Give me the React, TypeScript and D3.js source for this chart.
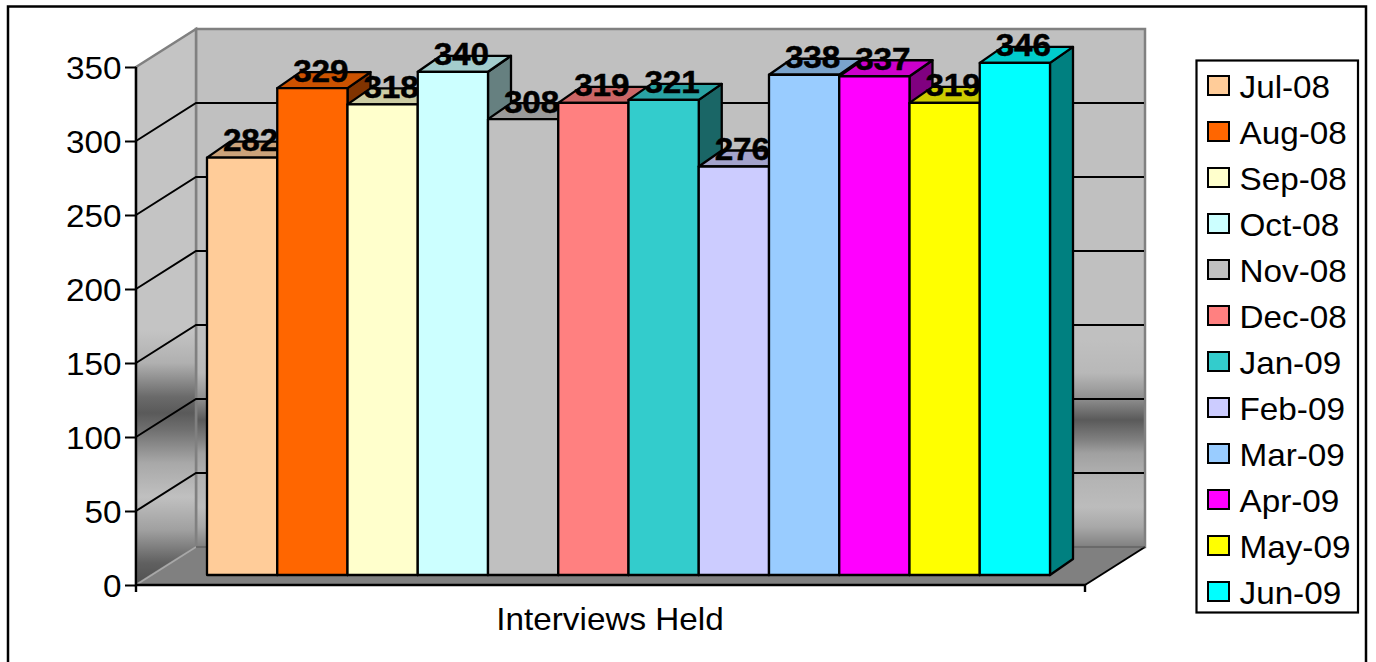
import React, { useEffect, useRef } from 'react'
import * as d3 from 'd3'

const months = ['Jul-08', 'Aug-08', 'Sep-08', 'Oct-08', 'Nov-08', 'Dec-08', 'Jan-09', 'Feb-09', 'Mar-09', 'Apr-09', 'May-09', 'Jun-09']
const interviews = [282, 329, 318, 340, 308, 319, 321, 276, 338, 337, 319, 346]
const barColors = ['#FFCC99', '#FF6600', '#FFFFCC', '#CCFFFF', '#C0C0C0', '#FF8080', '#33CCCC', '#CCCCFF', '#99CCFF', '#FF00FF', '#FFFF00', '#00FFFF']
const yTicks = [0, 50, 100, 150, 200, 250, 300, 350]
const seriesName = 'Interviews Held'

const backStops: Array<[number, string]> = [
  [340, '#c0c0c0'], [373, '#b8b8b8'], [398, '#909090'], [420, '#5a5a5a'], [440, '#808080'],
  [453, '#a0a0a0'], [480, '#b4b4b4'], [507, '#bcbcbc'], [527, '#a8a8a8'], [547, '#808080'],
]
const sideStops: Array<[number, string]> = [
  [330, '#c4c4c4'], [363, '#b0b0b0'], [397, '#6a6a6a'], [413, '#5a5a5a'], [430, '#707070'],
  [463, '#a8a8a8'], [497, '#c0c0c0'], [530, '#a0a0a0'], [563, '#606060'], [585, '#505050'],
]

const FONT = '"Liberation Sans", Arial, sans-serif'
const STRETCH = 1.04

const App = (): JSX.Element => {
  const ref = useRef<SVGSVGElement>(null)

  useEffect(() => {
    const svg = d3.select(ref.current)
    svg.selectAll('*').remove()

    const y = d3.scaleLinear().domain([0, 350]).range([585, 67])
    const x = d3.scaleBand().domain(months).range([207, 1050])
    const frontX = [136, 1085]
    const wallDx = 60
    const wallDy = -38
    const barBase = -10
    const depthX = 23
    const depthY = -16

    const addGradient = (id: string, stops: Array<[number, string]>) => {
      const g = svg
        .append('defs')
        .append('linearGradient')
        .attr('id', id)
        .attr('gradientUnits', 'userSpaceOnUse')
        .attr('x1', 0)
        .attr('x2', 0)
        .attr('y1', stops[0][0])
        .attr('y2', stops[stops.length - 1][0])
      const s = d3.scaleLinear().domain([stops[0][0], stops[stops.length - 1][0]]).range([0, 1])
      stops.forEach(d => {
        g.append('stop').attr('offset', s(d[0])).attr('stop-color', d[1])
      })
    }
    addGradient('backWall', backStops)
    addGradient('sideWall', sideStops)

    const stretched = (
      parent: d3.Selection<any, any, any, any>,
      px: number,
      py: number,
      label: string,
      anchor: string,
      weight = 'normal',
    ) => {
      parent
        .append('text')
        .attr('transform', 'translate(' + px + ',' + py + ') scale(' + STRETCH + ',1)')
        .attr('font-family', FONT)
        .attr('font-size', 32)
        .attr('font-weight', weight)
        .attr('text-anchor', anchor)
        .attr('fill', '#000')
        .attr('stroke', weight === 'bold' ? '#000' : 'none')
        .attr('stroke-width', 0.5)
        .text(label)
    }

    // outer frame, open at the bottom
    svg
      .append('path')
      .attr('d', 'M8,662V6.5H1366V662')
      .attr('fill', 'none')
      .attr('stroke', '#000')
      .attr('stroke-width', 2.5)

    // walls and floor
    const backLeft = frontX[0] + wallDx
    const backRight = frontX[1] + wallDx
    const polygon = (pts: number[][]) => 'M' + pts.map(p => p.join(',')).join('L') + 'Z'
    svg
      .append('path')
      .attr('d', polygon([[backLeft, y(350) + wallDy], [backRight, y(350) + wallDy], [backRight, y(0) + wallDy], [backLeft, y(0) + wallDy]]))
      .attr('fill', 'url(#backWall)')
      .attr('stroke', '#808080')
      .attr('stroke-width', 2.5)
    svg
      .append('path')
      .attr('d', polygon([[frontX[0], y(350)], [backLeft, y(350) + wallDy], [backLeft, y(0) + wallDy], [frontX[0], y(0)]]))
      .attr('fill', 'url(#sideWall)')
      .attr('stroke', '#808080')
      .attr('stroke-width', 2.5)
    svg
      .append('path')
      .attr('d', polygon([[frontX[0], y(0)], [backLeft, y(0) + wallDy], [backRight, y(0) + wallDy], [frontX[1], y(0)]]))
      .attr('fill', '#808080')
    svg
      .append('line')
      .attr('x1', frontX[1])
      .attr('y1', y(0))
      .attr('x2', backRight)
      .attr('y2', y(0) + wallDy)
      .attr('stroke', '#000')
      .attr('stroke-width', 2)
    svg
      .append('line')
      .attr('x1', frontX[0])
      .attr('y1', y(0))
      .attr('x2', backLeft)
      .attr('y2', y(0) + wallDy)
      .attr('stroke', '#a8a8a8')
      .attr('stroke-width', 1.5)
    svg
      .append('line')
      .attr('x1', backLeft)
      .attr('y1', y(0) + wallDy)
      .attr('x2', backRight)
      .attr('y2', y(0) + wallDy)
      .attr('stroke', '#555')
      .attr('stroke-width', 1)

    // gridlines
    yTicks
      .filter(t => t > 0 && t < 350)
      .forEach(t => {
        svg
          .append('path')
          .attr('d', 'M' + frontX[0] + ',' + y(t) + 'L' + backLeft + ',' + (y(t) + wallDy) + 'H' + (backRight - 1))
          .attr('fill', 'none')
          .attr('stroke', '#000')
          .attr('stroke-width', 2)
      })

    // axes
    const yAxis = d3.axisLeft(y).tickValues(yTicks).tickSize(11).tickFormat(d3.format('d'))
    svg
      .append('g')
      .attr('transform', 'translate(' + frontX[0] + ',0)')
      .call(g => {
        g.call(yAxis)
        g.select('.domain').remove()
        g.selectAll('.tick line').attr('stroke', '#000').attr('stroke-width', 2)
        g.selectAll('.tick text').remove()
      })
    yTicks.forEach(t => {
      stretched(svg, 121.5, y(t) + 12, String(t), 'end')
    })
    svg
      .append('path')
      .attr('d', 'M' + frontX[0] + ',' + y(350) + 'V' + (y(0) + 7) + 'M' + frontX[0] + ',' + y(0) + 'H' + frontX[1] + 'v7')
      .attr('fill', 'none')
      .attr('stroke', '#000')
      .attr('stroke-width', 2.4)

    // bars, left to right so each one hides the side of the one before
    const w = x.bandwidth()
    const bars = svg
      .selectAll('g.bar')
      .data(interviews)
      .enter()
      .append('g')
      .attr('class', 'bar')
      .attr('stroke', '#000')
      .attr('stroke-width', 2.3)
      .attr('stroke-linejoin', 'round')
    const barX = (i: number) => x(months[i]) as number
    const barTop = (d: number) => y(d) + barBase
    const shade = (c: string, k: number) => {
      const r = d3.rgb(c)
      return d3.rgb(r.r * k, r.g * k, r.b * k).formatHex()
    }
    bars
      .append('path')
      .attr('d', (d, i) =>
        polygon([
          [barX(i) + w, barTop(d)],
          [barX(i) + w + depthX, barTop(d) + depthY],
          [barX(i) + w + depthX, y(0) + barBase + depthY],
          [barX(i) + w, y(0) + barBase],
        ]),
      )
      .attr('fill', (d, i) => shade(barColors[i], 0.5))
    bars
      .append('path')
      .attr('d', (d, i) =>
        polygon([
          [barX(i), barTop(d)],
          [barX(i) + depthX, barTop(d) + depthY],
          [barX(i) + w + depthX, barTop(d) + depthY],
          [barX(i) + w, barTop(d)],
        ]),
      )
      .attr('fill', (d, i) => shade(barColors[i], 0.8))
    bars
      .append('rect')
      .attr('x', (d, i) => barX(i))
      .attr('y', d => barTop(d))
      .attr('width', w)
      .attr('height', d => y(0) + barBase - barTop(d))
      .attr('fill', (d, i) => barColors[i])

    // value labels on top of everything
    interviews.forEach((d, i) => {
      stretched(svg, barX(i) + w / 2 + 8.5, barTop(d) - 6.5, String(d), 'middle', 'bold')
    })

    stretched(svg, 610, 630, seriesName, 'middle')

    // legend
    svg
      .append('rect')
      .attr('x', 1196.5)
      .attr('y', 60.5)
      .attr('width', 161.5)
      .attr('height', 552)
      .attr('fill', '#fff')
      .attr('stroke', '#000')
      .attr('stroke-width', 2.2)
    const rowY = d3.scalePoint().domain(months).range([85.5, 591.5])
    months.forEach((m, i) => {
      const cy = rowY(m) as number
      svg
        .append('rect')
        .attr('x', 1208)
        .attr('y', cy - 9.5)
        .attr('width', 21)
        .attr('height', 19)
        .attr('fill', barColors[i])
        .attr('stroke', '#000')
        .attr('stroke-width', 2)
      stretched(svg, 1239.5, cy + 12, m, 'start')
    })
  }, [])

  return (
    <svg
      ref={ref}
      width={1376}
      height={662}
      style={{ position: 'absolute', left: 0, top: 0, display: 'block', background: '#fff' }}
    />
  )
}

export default App
